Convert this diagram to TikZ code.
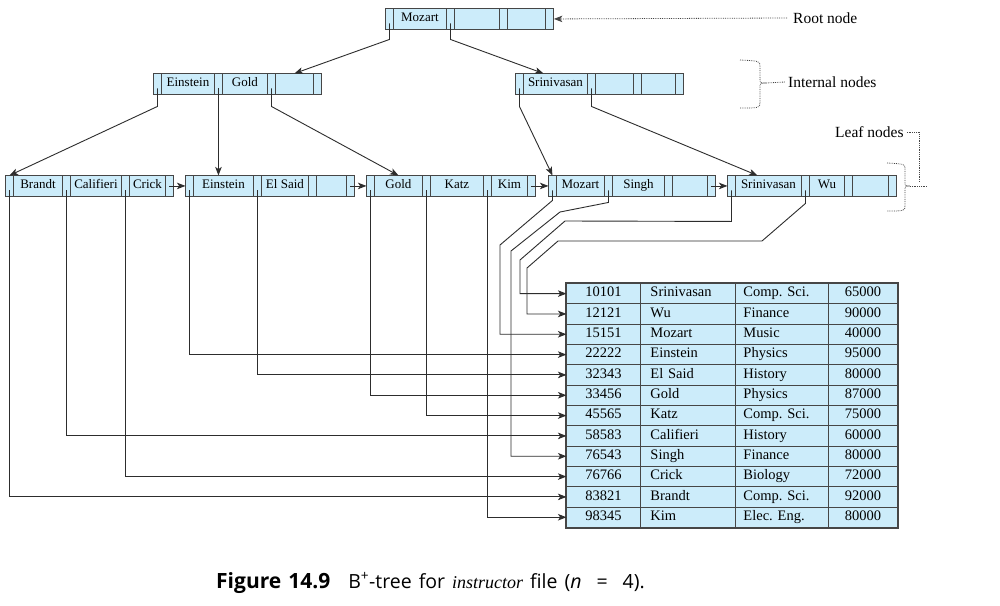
\documentclass[tikz,border=0pt]{standalone}
\usepackage{fontspec}
\setmainfont{Liberation Serif}
\newfontfamily\capsans{Open Sans}
\usetikzlibrary{positioning}
\usetikzlibrary{matrix}
\usetikzlibrary{arrows.meta}
\definecolor{cellblue}{RGB}{204,236,250}
\definecolor{edgegray}{RGB}{70,70,70}
\definecolor{linkgray}{RGB}{45,45,45}
\frenchspacing

\begin{document}
\begin{tikzpicture}[x=1pt,y=-1pt,
  cell/.style={draw=edgegray,fill=cellblue,line width=0.9pt,outer sep=0pt,inner xsep=1pt,inner ysep=0pt,
    minimum height=21pt,text height=9pt,text depth=3pt,font=\fontsize{13}{15}\selectfont},
  ptr/.style={minimum width=8pt},
  bnode/.style n args={3}{matrix of nodes,nodes in empty cells,inner sep=0pt,outer sep=0pt,
    column sep=-0.9pt,anchor=north west,nodes={cell},
    column 1/.style={nodes={ptr}},column 3/.style={nodes={ptr}},
    column 5/.style={nodes={ptr}},column 7/.style={nodes={ptr}},
    column 2/.style={nodes={minimum width=#1}},column 4/.style={nodes={minimum width=#2}},
    column 6/.style={nodes={minimum width=#3}}},
  tcell/.style={draw=edgegray,fill=cellblue,line width=0.9pt,outer sep=0pt,inner ysep=0pt,
    minimum height=20.33pt,text height=10pt,text depth=3.5pt,font=\fontsize{14.5}{16}\selectfont},
  tab/.style={matrix of nodes,inner sep=0pt,outer sep=0pt,column sep=-0.9pt,row sep=-0.9pt,
    anchor=north west,nodes={tcell},
    column 1/.style={nodes={minimum width=74pt}},
    column 2/.style={nodes={text width=75pt,inner xsep=10pt,align=left}},
    column 3/.style={nodes={text width=77pt,inner xsep=8pt,align=left}},
    column 4/.style={nodes={minimum width=69pt}}},
  link/.style={draw=linkgray,line width=0.9pt,-{Stealth[length=8.5pt,width=6.5pt,inset=2.2pt]}},
  note/.style={draw=edgegray,line width=0.8pt,densely dotted},
  lbl/.style={font=\fontsize{15.5}{17}\selectfont,inner sep=0pt,anchor=west}]

\path[use as bounding box,fill=white] (0,0) rectangle (1000,605);

% tree nodes
\matrix[bnode={53pt}{45pt}{38pt}] (root) at (385,8) { & Mozart & & & & & \\ };
\matrix[bnode={53pt}{45pt}{38pt}] (eg) at (153,73) { & Einstein & & Gold & & & \\ };
\matrix[bnode={64pt}{38pt}{34pt}] (sr) at (515,73) { & Srinivasan & & & & & \\ };
\matrix[bnode={49pt}{51pt}{36pt}] (lf1) at (5,175) { & Brandt & & Califieri & & Crick & \\ };
\matrix[bnode={60pt}{47pt}{30pt}] (lf2) at (185,175) { & Einstein & & El Said & & & \\ };
\matrix[bnode={48pt}{53pt}{36pt}] (lf3) at (366,175) { & Gold & & Katz & & Kim & \\ };
\matrix[bnode={48pt}{52pt}{35pt}] (lf4) at (548,175) { & Mozart & & Singh & & & \\ };
\matrix[bnode={66pt}{35pt}{36pt}] (lf5) at (727,175) { & Srinivasan & & Wu & & & \\ };

% instructor file
\matrix[tab] (tab) at (566,283) {
10101 & Srinivasan & Comp. Sci. & 65000 \\
12121 & Wu & Finance & 90000 \\
15151 & Mozart & Music & 40000 \\
22222 & Einstein & Physics & 95000 \\
32343 & El Said & History & 80000 \\
33456 & Gold & Physics & 87000 \\
45565 & Katz & Comp. Sci. & 75000 \\
58583 & Califieri & History & 60000 \\
76543 & Singh & Finance & 80000 \\
76766 & Crick & Biology & 72000 \\
83821 & Brandt & Comp. Sci. & 92000 \\
98345 & Kim & Elec. Eng. & 80000 \\
};
\draw[edgegray,line width=1.4pt] (tab.north west) rectangle (tab.south east);

% tree pointers
\draw[link] ([yshift=6pt]root-1-1.south) -- ++(0,16) -- (eg-1-6.north);
\draw[link] ([yshift=6pt]root-1-3.south) -- ++(0,16) -- ([xshift=-12pt]sr-1-2.north);
\draw[link] ([yshift=6pt]eg-1-1.south) -- ++(0,18) -- (lf1-1-1.north);
\draw[link] ([yshift=6pt]eg-1-3.south) -- (eg-1-3.south |- lf2-1-2.north);
\draw[link] ([yshift=6pt]eg-1-5.south) -- ++(0,18) -- (lf3-1-2.north);
\draw[link] ([yshift=6pt]sr-1-1.south) -- ++(0,18) -- (lf4-1-1.north);
\draw[link] ([yshift=6pt]sr-1-3.south) -- ++(0,18) -- ([xshift=-11pt]lf5-1-2.north);

% leaf chain
\draw[link] (lf1-1-7.center) -- (lf2-1-1.west);
\draw[link] (lf2-1-7.center) -- (lf3-1-1.west);
\draw[link] (lf3-1-7.center) -- (lf4-1-1.west);
\draw[link] (lf4-1-7.center) -- (lf5-1-1.west);

% leaf pointers to records
\draw[link] ([yshift=6pt]lf1-1-1.south) |- (tab-11-1.west);
\draw[link] ([yshift=6pt]lf1-1-3.south) |- (tab-8-1.west);
\draw[link] ([yshift=6pt]lf1-1-5.south) |- (tab-10-1.west);
\draw[link] ([yshift=6pt]lf2-1-1.south) |- (tab-4-1.west);
\draw[link] ([yshift=6pt]lf2-1-3.south) |- (tab-5-1.west);
\draw[link] ([yshift=6pt]lf3-1-1.south) |- (tab-6-1.west);
\draw[link] ([yshift=6pt]lf3-1-3.south) |- (tab-7-1.west);
\draw[link] ([yshift=6pt]lf3-1-5.south) |- (tab-12-1.west);
\draw[link] ([yshift=6pt]lf4-1-1.south) -- ++(0,10) -- (500,245) |- (tab-3-1.west);
\draw[link] ([yshift=6pt]lf4-1-3.south) -- ++(0,12) -- (560,212) -- (511,251) |- (tab-9-1.west);
\draw[link] ([yshift=6pt]lf5-1-1.south) -- ++(0,31) -- (565,221) -- (520,260) |- (tab-1-1.west);
\draw[link] ([yshift=6pt]lf5-1-3.south) -- ++(0,13) -- (762,241) -- (558,241) -- (527,268) |- (tab-2-1.west);

% labels
\node[lbl] (rootlbl) at (793,18) {Root node};
\draw[note,-{Stealth[length=8.5pt,width=6.5pt,inset=2.2pt]}] ([xshift=-6pt]rootlbl.west) -- (root.east);

\node[lbl] (intlbl) at (788,82) {Internal nodes};
\coordinate (intbr) at (766,83);
\draw[note] (740,60) .. controls (760,61) .. (760,67) -- (760,78) .. controls (760,83) .. (intbr)
  .. controls (760,83) .. (760,88) -- (760,102) .. controls (760,108) .. (740,108);
\draw[note] (intbr) -- ([xshift=-3pt]intlbl.west);

\node[lbl] (leaflbl) at (835,132) {Leaf nodes};
\coordinate (leafbr) at (910,186);
\draw[note] (887,163) .. controls (905,164) .. (905,169) -- (905,181) .. controls (905,186) .. (leafbr)
  .. controls (905,186) .. (905,191) -- (905,205) .. controls (905,211) .. (887,211);
\draw[note] (leafbr) -- ++(17,0);
\draw[note] ([xshift=3pt]leaflbl.east) -| (919,182);

% caption
\node[anchor=west,inner sep=0pt,font=\capsans\fontsize{19.5}{21}\selectfont] (cap) at (216,583)
  {\spaceskip=7pt plus 2pt{\fontsize{21}{22}\selectfont\bfseries Figure 14.9}\hspace{18pt}B\textsuperscript{+}-tree for
   {\rmfamily\itshape\fontsize{18}{19}\selectfont instructor} file (\textit{n}\hspace{15pt}=\hspace{15pt}4).};
\end{tikzpicture}
\end{document}
